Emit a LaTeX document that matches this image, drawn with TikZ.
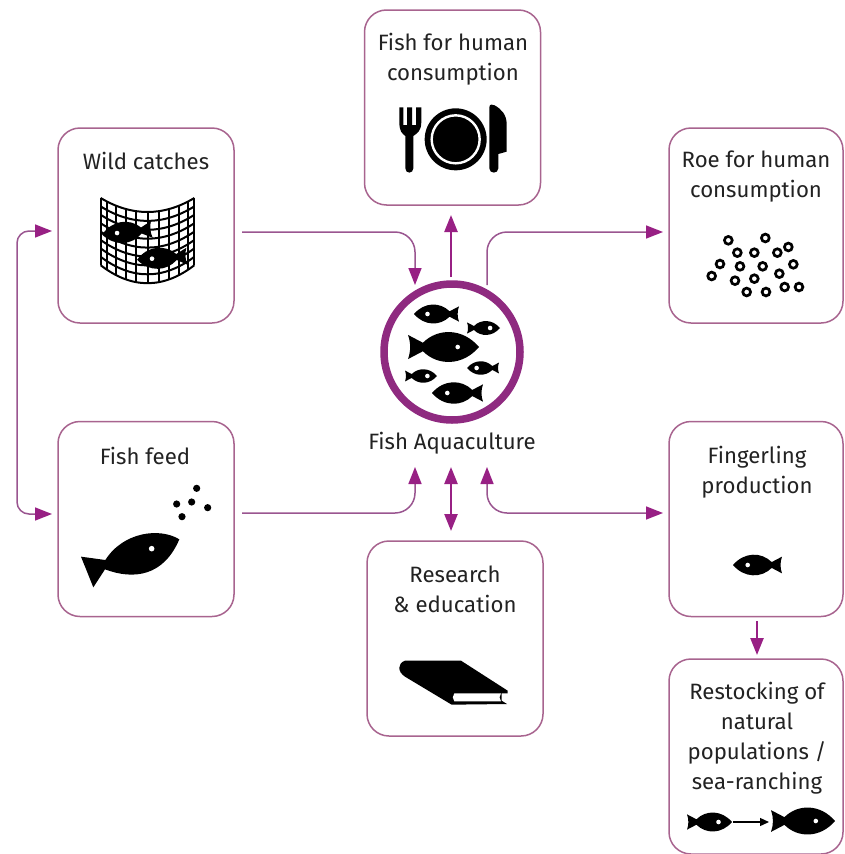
\documentclass[tikz,border=0pt]{standalone}
\usepackage{fontspec}
\setmainfont{Fira Sans}
\usetikzlibrary{arrows.meta,calc}
\definecolor{boxc}{HTML}{A8648F}
\definecolor{linec}{HTML}{9A5590}
\definecolor{tipc}{HTML}{982084}
\definecolor{hubc}{HTML}{8F2A80}
\definecolor{inkc}{HTML}{222222}
\newcommand{\fishy}[5]{%
  \begin{scope}[shift={(#1,#2)},rotate=#5,xscale=#3*#4,yscale=#3]
    \fill[black] (.5,0) .. controls (.27,.27) and (-.08,.27) .. (-.29,.06) -- (-.5,.17)
      .. controls (-.46,.06) and (-.46,-.06) .. (-.5,-.17) -- (-.29,-.06)
      .. controls (-.08,-.27) and (.27,-.27) .. (.5,0) -- cycle;
    \fill[white] (.2,0) circle[radius={2.3/#3}];
  \end{scope}}
\tikzset{
  boxnode/.style={draw=boxc,line width=1.5pt,rounded corners=22pt,minimum width=#1,minimum height=195pt,inner sep=0pt},
  boxnode/.default=176pt,
  lab/.style={text=inkc,align=center,font=\fontsize{22.2}{30}\selectfont,inner sep=0pt},
  flow/.style={draw=linec,line width=1.5pt,-{Triangle[length=17pt,width=13pt,color=tipc]}},
  flowboth/.style={draw=linec,line width=1.5pt,{Triangle[length=17pt,width=13pt,color=tipc]}-{Triangle[length=17pt,width=13pt,color=tipc]}},
  strong/.style={draw=tipc,line width=2.4pt},
  zoomed/.style 2 args={shift={(#1,#2)},x=0.33333pt,y=-0.33333pt},
}
\begin{document}
\begin{tikzpicture}[x=1pt,y=-1pt]
\useasboundingbox (0,0) rectangle (844,854);
\fill[white] (0,0) rectangle (844,854);
% boxes
\node[boxnode] (fishbox) at (452.5,107.5) {};
\node[boxnode] (wild) at (146,225.5) {};
\node[boxnode=174pt] (roe) at (756,225.5) {};
\node[boxnode] (feed) at (146,519) {};
\node[boxnode] (research) at (455,638.5) {};
\node[boxnode=174pt] (finger) at (756,519) {};
\node[boxnode=174pt] (restock) at (756,756.5) {};
\node[circle,draw=hubc,line width=7.5pt,minimum size=136pt,inner sep=0pt] (hub) at (452,352) {};
% labels
\node[lab] (lfish) at (453,59.5) {Fish for human\\consumption};
\node[lab] (lwild) at (146,161) {Wild catches};
\node[lab] (lroe) at (756,177) {Roe for human\\consumption};
\node[lab] (lfeed) at (145,456) {Fish feed};
\node[lab] (lfinger) at (757,472) {Fingerling\\production};
\node[lab] (lresearch) at (455,589) {Research\\\& education};
\node[lab] (lrestock) at (757,738) {Restocking of\\natural\\populations /\\sea-ranching};
\node[lab] (aqua) at (452,443) {Fish Aquaculture};
% connector ends
\coordinate (wildout) at (242,232);
\coordinate (hubW) at (415,285);
\coordinate (hubR) at (487,285);
\coordinate (roein) at (663,232);
\coordinate (feedout) at (242,513);
\coordinate (aquaW) at (415,467);
\coordinate (aquaR) at (487,467);
\coordinate (fingerin) at (663,513);
\coordinate (wildin) at (52,231);
\coordinate (feedin) at (52,514);
\coordinate (rail) at (17,372);
\coordinate (hubUp) at (451,277);
\coordinate (fishIn) at (451,215);
\coordinate (aquaD) at (451,467);
\coordinate (resIn) at (451,531);
\coordinate (fingerD) at (757,621);
\coordinate (restIn) at (757,655);
% connectors
\draw[flow,rounded corners=20pt] (wildout) -| (hubW);
\draw[flow,rounded corners=20pt] (hubR) |- (roein);
\draw[flow,rounded corners=20pt] (feedout) -| (aquaW);
\draw[flowboth,rounded corners=20pt] (aquaR) |- (fingerin);
\draw[flowboth,rounded corners=12pt] (wildin) -| (rail) |- (feedin);
\draw[flow,strong] (hubUp) -- (fishIn);
\draw[flowboth,strong] (aquaD) -- (resIn);
\draw[flow,strong] (fingerD) -- (restIn);
% hub fish
\fishy{436.5}{314}{45}{-1}{0}
\fishy{483.5}{328}{33}{1}{0}
\fishy{443.5}{347}{71}{1}{0}
\fishy{483}{368}{32}{-1}{0}
\fishy{421}{376}{32}{1}{0}
\fishy{457.5}{393}{51}{-1}{0}
% cutlery
\begin{scope}[zoomed={360}{0}]
  \fill[black] (118,322) -- (130,322) -- (130,375) -- (141,375) -- (141,322) -- (156,322) -- (156,375) -- (168,375) -- (168,322) -- (184,322)
     -- (184,365) .. controls (184,395) and (170,400) .. (160,408) -- (160,505)
     .. controls (160,522) and (136,522) .. (136,505) -- (136,408) .. controls (126,400) and (118,395) .. (118,365) -- cycle;
  \fill[black] (287,418) circle[radius=31pt];
  \draw[white,line width=2.4pt] (287,418) circle[radius=24pt];
  \fill[black] (388,322) .. controls (388,312) and (398,312) .. (404,316) .. controls (425,328) and (440,345) .. (440,372)
     -- (440,455) -- (415,462) -- (415,505) .. controls (415,522) and (388,522) .. (388,505) -- cycle;
\end{scope}
% net
\begin{scope}[zoomed={50}{120}]
  \foreach \v in {0,...,8} {
    \pgfmathsetmacro{\yy}{234+\v*25.2}
    \pgfmathsetmacro{\cc}{\yy+(4/3)*(42+\v*1.5)}
    \draw[black,line width=2pt] (152,\yy) .. controls (245,\cc) and (340,\cc) .. (433,\yy);
  }
  \foreach \a in {-60,-48,...,60} {
    \pgfmathsetmacro{\tt}{sin(\a)/sin(60)}
    \pgfmathsetmacro{\xx}{292.5+140.5*\tt}
    \pgfmathsetmacro{\ya}{234+42*(1-\tt*\tt)}
    \pgfmathsetmacro{\yb}{436+54*(1-\tt*\tt)}
    \draw[black,line width=2pt] (\xx,\ya) -- (\xx,\yb);
  }
\end{scope}
\fishy{127}{232}{50}{-1}{6}
\fishy{162}{258}{50}{-1}{4}
% roe
\begin{scope}[zoomed={660}{120}]
  \foreach \p/\q in {205/361,316/354,232/398,283/398,352/398,385/381,180/432,240/439,308/439,400/433,155/468,358/461,283/476,225/482,374/501,417/501,260/516,318/516}
    \draw[black,line width=2.7pt] (\p,\q) circle[radius=3.9pt];
\end{scope}
% fish feed
\begin{scope}[zoomed={50}{420}]
  \fill[black] (388,358) .. controls (330,322) and (220,335) .. (166,420) -- (93,410) -- (130,502) -- (165,448)
     .. controls (250,480) and (340,470) .. (388,358) -- cycle;
  \fill[white] (305,386) circle[radius=2.8pt];
  \foreach \p/\q in {440/205,380/252,425/246,473/263,396/290}
    \fill[black] (\p,\q) circle[radius=3.6pt];
\end{scope}
% book
\begin{scope}[zoomed={360}{530}]
  \fill[black] (135,392) -- (303,392) -- (443,482) -- (443,490) -- (425,490) -- (425,512) -- (441,522) -- (275,524)
     -- (135,440) .. controls (112,425) and (112,400) .. (135,392) -- cycle;
  \fill[white] (283,490) -- (423,490) .. controls (417,497) and (417,507) .. (423,514) -- (283,514) .. controls (277,507) and (277,497) .. (283,490) -- cycle;
\end{scope}
% fingerling
\fishy{757.5}{565}{49}{-1}{0}
% restocking
\fishy{709.5}{822}{45}{1}{0}
\fishy{803}{821}{64}{1}{0}
\coordinate (smallnose) at (733,822);
\coordinate (bignose) at (769,822);
\draw[black,line width=1.3pt,-{Triangle[length=9pt,width=8pt]}] (smallnose) -- (bignose);
\end{tikzpicture}
\end{document}
